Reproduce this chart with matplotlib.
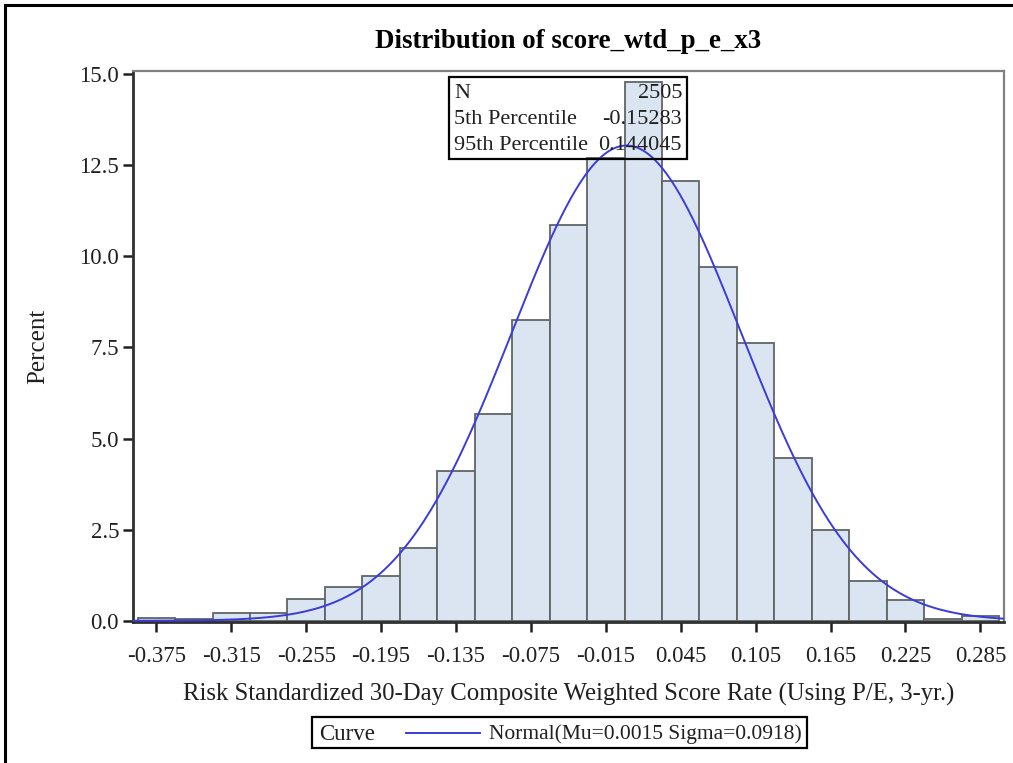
import numpy as np
import matplotlib
matplotlib.use("Agg")
import matplotlib.pyplot as plt
from matplotlib.patches import Rectangle
from matplotlib.lines import Line2D

# Histogram bins (midpoints) and percent of observations in each
bin_mids = [-0.375, -0.345, -0.315, -0.285, -0.255, -0.225, -0.195, -0.165,
            -0.135, -0.105, -0.075, -0.045, -0.015, 0.015, 0.045, 0.075,
            0.105, 0.135, 0.165, 0.195, 0.225, 0.255, 0.285]
percents = [0.08, 0.04, 0.20, 0.20, 0.60, 0.92, 1.24, 2.00,
            4.11, 5.67, 8.26, 10.86, 12.69, 14.77, 12.06, 9.70,
            7.62, 4.47, 2.48, 1.08, 0.56, 0.04, 0.12]
bin_width = 0.03

# Fitted normal parameters
mu = 0.0015
sigma = 0.0918

# Summary statistics
stat_names = ["N", "5th Percentile", "95th Percentile"]
stat_values = ["2505", "-0.15283", "0.144045"]

xticks = [-0.375, -0.315, -0.255, -0.195, -0.135, -0.075, -0.015,
          0.045, 0.105, 0.165, 0.225, 0.285]
yticks = [0.0, 2.5, 5.0, 7.5, 10.0, 12.5, 15.0]

FONT = "Liberation Serif"
plt.rcParams["font.family"] = FONT

W, H = 1013, 763
fig = plt.figure(figsize=(W / 100, H / 100), dpi=100)
fig.patch.set_facecolor("white")

def fx(px):
    return px / W

def fy(py):
    return 1 - py / H

ax = fig.add_axes([fx(133), fy(621.5), (1003.5 - 133) / W, (621.5 - 70.7) / H])

ax.bar(bin_mids, percents, width=bin_width, align="center",
       facecolor="#dbe5f1", edgecolor="#5f6468", linewidth=1.3, zorder=2)

xs = np.linspace(-0.3937, 0.3035, 600)
pdf = np.exp(-0.5 * ((xs - mu) / sigma) ** 2) / (sigma * np.sqrt(2 * np.pi))
ax.plot(xs, 100 * bin_width * pdf, color="#3b3bdc", linewidth=1.4, zorder=3)

ax.set_xlim(-0.3937, 0.3035)
ax.set_ylim(-0.02, 15.09)
ax.set_xticks(xticks)
ax.set_xticklabels([f"{t:.3f}" for t in xticks])
ax.set_yticks(yticks)
ax.set_yticklabels([f"{t:.1f}" for t in yticks])
ax.tick_params(axis="both", direction="out", length=7, width=1.8,
               color="#202020", labelsize=16.5, labelcolor="#202020")
ax.tick_params(axis="x", pad=11)
ax.tick_params(axis="y", pad=3)

for side in ["top", "right"]:
    ax.spines[side].set_color("#808080")
    ax.spines[side].set_linewidth(1.6)
for side in ["left", "bottom"]:
    ax.spines[side].set_color("#303030")
    ax.spines[side].set_linewidth(2.0)

ax.set_ylabel("Percent", fontsize=18, color="#202020", labelpad=22)
ax.set_xlabel("Risk Standardized 30-Day Composite Weighted Score Rate (Using P/E, 3-yr.)",
              fontsize=17.8, color="#202020", labelpad=11)

fig.text(fx(568), fy(42), "Distribution of score_wtd_p_e_x3", fontsize=19.4,
         fontweight="bold", ha="center", va="center", color="black")

# Summary statistics inset
fig.add_artist(Rectangle((fx(449), fy(159)), (687 - 449) / W, (159 - 77) / H,
                         transform=fig.transFigure, fill=False,
                         edgecolor="black", linewidth=1.6, zorder=5))
row_y = [94, 120, 146]
for name, val, yy in zip(stat_names, stat_values, row_y):
    fig.text(fx(454), fy(yy), name, fontsize=16, ha="left", va="center",
             color="#202020", zorder=6)
    fig.text(fx(682), fy(yy), val, fontsize=16, ha="right", va="center",
             color="#202020", zorder=6)

# Legend for the fitted curve
fig.add_artist(Rectangle((fx(312), fy(748)), (807 - 312) / W, (748 - 717) / H,
                         transform=fig.transFigure, fill=False,
                         edgecolor="black", linewidth=1.6))
fig.text(fx(319), fy(734), "Curve", fontsize=16.5, ha="left", va="center",
         color="#202020")
fig.add_artist(Line2D([fx(406), fx(480)], [fy(733), fy(733)],
                      transform=fig.transFigure, color="#3b3bdc", linewidth=1.4))
fig.text(fx(489), fy(734), f"Normal(Mu={mu:.4f} Sigma={sigma:.4f})", fontsize=15.5,
         ha="left", va="center", color="#202020")

# Outer frame (left and top edges)
fig.add_artist(Line2D([fx(5), fx(5)], [fy(5), 0], transform=fig.transFigure,
                      color="black", linewidth=2.2))
fig.add_artist(Line2D([fx(5), 1], [fy(5), fy(5)], transform=fig.transFigure,
                      color="black", linewidth=2.2))

fig.savefig("out.png", dpi=100)
